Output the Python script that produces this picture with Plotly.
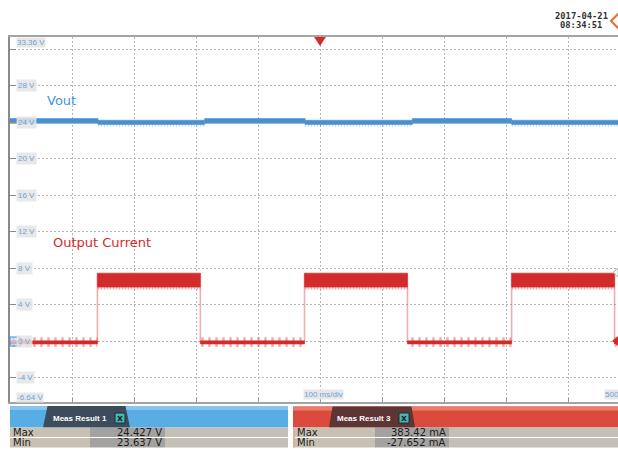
import plotly.graph_objects as go

# ---------------- data ----------------
time_range = [-500, 480.6]          # ms, 100 ms/div
volt_range = [-6.64, 33.36]         # screen volts, 4 V/div

# Output current channel: segment edges (ms) and state per segment (1 = load on)
cur_edges = [-500, -359, -193, -25, 141, 309, 475, 481]
cur_state = [0, 1, 0, 1, 0, 1, 0]
cur_low_band = [-0.28, 0.06]
cur_low_spikes = [-0.6, 0.45]
cur_high_band = [5.95, 7.48]
cur_high_fuzz = [5.7, 5.95]

# Vout channel: segment edges (ms) and state per segment (1 = unloaded / high)
vout_edges = [-500, -358, -186, -24, 149, 309, 481]
vout_state = [1, 0, 1, 0, 1, 0]
vout_high_band = [23.9, 24.43]
vout_low_band = [23.78, 24.24]
vout_low_spikes = [23.55, 23.78]

ytick_vals = [28, 24, 20, 16, 12, 8, 4, 0, -4]
ytick_text = ["28 V", "24 V", "20 V", "16 V", "12 V", "8 V", "4 V", "0 V", "-4 V"]
y_top_label = "33.36 V"
y_bottom_label = "-6.64 V"
x_scale_label = "100 ms/div"
x_right_label = "500"

meas_row_labels = ["Max", "Min"]
meas1_title = "Meas Result 1"
meas1_values = ["24.427 V", "23.637 V"]
meas3_title = "Meas Result 3"
meas3_values = ["383.42 mA", "-27.652 mA"]
timestamp_date = "2017-04-21"
timestamp_time = "08:34:51"

# ---------------- layout geometry ----------------
W, H = 618, 449
L, T, B = 10, 37, 402
PW = W - L
PH = B - T

def px(x):
    return (x - L) / PW

def py(y):
    return (B - y) / PH

BLUE = "#4a90cf"
RED = "#d22b2b"

def bands(edges, states, want, band):
    xs, ys = [], []
    for i, s in enumerate(states):
        if s != want:
            continue
        x0, x1 = edges[i], edges[i + 1]
        xs += [x0, x1, x1, x0, x0, None]
        ys += [band[0], band[0], band[1], band[1], band[0], None]
    return xs, ys

fig = go.Figure()

def band_trace(xs, ys, color):
    fig.add_trace(go.Scatter(x=xs, y=ys, mode="lines", fill="toself",
                             fillcolor=color, line=dict(width=0.6, color=color),
                             hoverinfo="skip", showlegend=False))

def pattern_trace(xs, ys, color, size, solidity):
    fig.add_trace(go.Scatter(x=xs, y=ys, mode="lines", fill="toself",
                             fillcolor="rgba(0,0,0,0)", line=dict(width=0),
                             fillpattern=dict(shape="|", size=size, solidity=solidity,
                                              fgcolor=color, bgcolor="rgba(0,0,0,0)"),
                             hoverinfo="skip", showlegend=False))

# Vout
xs, ys = bands(vout_edges, vout_state, 0, vout_low_spikes)
pattern_trace(xs, ys, "rgba(74,144,207,0.75)", 3, 0.45)
xs, ys = bands(vout_edges, vout_state, 1, vout_high_band)
band_trace(xs, ys, BLUE)
xs, ys = bands(vout_edges, vout_state, 0, vout_low_band)
band_trace(xs, ys, BLUE)

# Output current edges
lo_c = sum(cur_low_band) / 2
ex, ey = [], []
for e in cur_edges[1:-1]:
    ex += [e, e, None]
    ey += [lo_c, cur_high_band[1], None]
fig.add_trace(go.Scatter(x=ex, y=ey, mode="lines",
                         line=dict(width=1.6, color="rgba(225,110,110,0.55)"),
                         hoverinfo="skip", showlegend=False))

# Output current bands
xs, ys = bands(cur_edges, cur_state, 0, cur_low_spikes)
pattern_trace(xs, ys, "rgba(210,43,43,0.8)", 7, 0.35)
xs, ys = bands(cur_edges, cur_state, 0, cur_low_band)
band_trace(xs, ys, RED)
xs, ys = bands(cur_edges, cur_state, 1, cur_high_fuzz)
pattern_trace(xs, ys, "rgba(210,43,43,0.85)", 3, 0.55)
xs, ys = bands(cur_edges, cur_state, 1, cur_high_band)
band_trace(xs, ys, RED)

shapes = []
annotations = []

def rect_px(x0, y0, x1, y1, fill, line=None):
    shapes.append(dict(type="rect", xref="paper", yref="paper",
                       x0=px(x0), x1=px(x1), y0=py(y0), y1=py(y1),
                       fillcolor=fill, line=dict(width=0 if line is None else 1,
                                                 color=line or fill),
                       layer="above"))

def poly_px(points, fill, line_color=None, lw=0):
    d = "M " + " L ".join(f"{px(x):.5f},{py(y):.5f}" for x, y in points) + " Z"
    shapes.append(dict(type="path", xref="paper", yref="paper", path=d,
                       fillcolor=fill, line=dict(width=lw, color=line_color or fill),
                       layer="above"))

def text_px(x, y, text, size=10, color="#222", anchor="left", family="DejaVu Sans",
            bg=None, bold=False):
    if bold:
        text = f"<b>{text}</b>"
    a = dict(xref="paper", yref="paper", x=px(x), y=py(y), text=text,
             showarrow=False, xanchor=anchor, yanchor="middle",
             font=dict(size=size, color=color, family=family))
    if bg:
        a.update(bgcolor=bg, borderpad=0)
    annotations.append(a)

# y tick label boxes (inside plot)
LBL = dict(size=8, color="#6da3d8", family="Liberation Sans")
for v, t in zip(ytick_vals, ytick_text):
    annotations.append(dict(xref="paper", yref="y", x=px(16), y=v, text=t,
                            showarrow=False, xanchor="left", yanchor="middle",
                            font=LBL, bgcolor="rgba(228,228,228,0.85)", borderpad=1))
text_px(16, 42.5, y_top_label, size=8, color="#6da3d8", family="Liberation Sans",
        bg="rgba(228,228,228,0.9)")
text_px(16, 397, y_bottom_label, size=8, color="#6da3d8", family="Liberation Sans",
        bg="rgba(228,228,228,0.9)")
text_px(303, 394, x_scale_label, size=8, color="#6da3d8", family="Liberation Sans",
        bg="rgba(228,228,228,0.9)")
text_px(604, 394, x_right_label, size=8, color="#6da3d8", family="Liberation Sans",
        bg="rgba(228,228,228,0.9)")

# channel labels
text_px(45, 101, "Vout", size=13, color="#3f94d8")
text_px(51, 242, "Output Current", size=13, color="#d42a2a")

# timestamp
text_px(581, 15.5, timestamp_date, size=8.8, color="#333", anchor="center",
        family="DejaVu Sans Mono", bold=True)
text_px(581, 24.5, timestamp_time, size=8.8, color="#333", anchor="center",
        family="DejaVu Sans Mono", bold=True)
# orange diamond icon (cut by the window edge)
poly_px([(611, 21), (619, 13), (627, 21), (619, 29)], "rgba(0,0,0,0)", "#ec6a32", 2)

# trigger position marker
shapes.append(dict(type="path", xref="x", yref="paper",
                   path=f"M -9.5,1 L 9.5,1 L 0,{1 - 9/PH:.5f} Z",
                   fillcolor="#d42a2a", line=dict(width=0), layer="above"))

# channel reference markers
rect_px(10, 337, 20, 346, "rgba(205,225,245,0.7)", BLUE)
poly_px([(20, 337.5), (27, 341.5), (20, 345.5)], "rgba(210,43,43,0.8)")
poly_px([(618, 336), (612, 341), (618, 346)], "#d42a2a")
poly_px([(618, 268), (613, 272.5), (618, 277)], "rgba(0,0,0,0)", "#b0b0b0", 1)

# ---------------- measurement panels ----------------
# blue panel
rect_px(10, 406, 288, 427.5, "#58ade4")
rect_px(10, 406, 288, 410, "#86c6ee")
poly_px([(43, 427.5), (47.5, 406), (125.5, 406), (130, 427.5)], "#3d4c5c")
text_px(80, 418, meas1_title, size=8, color="white", anchor="center",
        family="Liberation Sans", bold=True)
rect_px(115, 413, 125, 423, "#46b6ae", "#1f2e36")
text_px(120, 418, "x", size=9, color="#1b2830", anchor="center", bold=True)
# red panel
rect_px(293, 406.5, 618, 427.5, "#dc4a3d")
rect_px(293, 406.5, 618, 410.5, "#ea7a6c")
poly_px([(329, 427.5), (332.5, 406.5), (411.5, 406.5), (415, 427.5)], "#5e3535")
text_px(364, 418, meas3_title, size=8, color="white", anchor="center",
        family="Liberation Sans", bold=True)
rect_px(399, 413, 409, 423, "#46b6ae", "#1f2e36")
text_px(404, 418, "x", size=9, color="#1b2830", anchor="center", bold=True)

row_y = [(427.5, 437), (438, 447.5)]
for (y0, y1), lab, v1, v3 in zip(row_y, meas_row_labels, meas1_values, meas3_values):
    ym = (y0 + y1) / 2
    rect_px(10, y0, 90, y1, "#c8c1b3")
    rect_px(90, y0, 165, y1, "#a4a2a0")
    rect_px(165, y0, 288, y1, "#c4bfb7")
    rect_px(293, y0, 375, y1, "#c8c1b3")
    rect_px(375, y0, 449, y1, "#a4a2a0")
    rect_px(449, y0, 618, y1, "#c4bfb7")
    text_px(11, ym, lab, size=10, color="#1c1c1c")
    text_px(164, ym, v1, size=10, color="#1c1c1c", anchor="right")
    text_px(295, ym, lab, size=10, color="#1c1c1c")
    text_px(448, ym, v3, size=10, color="#1c1c1c", anchor="right")
rect_px(293, 427.5, 295, 447.5, "#e8a8a0")

fig.update_layout(
    width=W, height=H, autosize=False,
    margin=dict(l=L, r=0, t=T, b=H - B, pad=0),
    paper_bgcolor="white", plot_bgcolor="white",
    showlegend=False,
    shapes=shapes, annotations=annotations,
    xaxis=dict(range=time_range, dtick=100, tick0=0, showgrid=True,
               gridcolor="#b5b5b5", gridwidth=1, griddash="2px,2px",
               zeroline=False, showticklabels=False, ticks="inside", ticklen=4,
               tickcolor="#999", showline=True, linecolor="#a3a3a3", linewidth=2,
               mirror=True, fixedrange=True),
    yaxis=dict(range=volt_range, dtick=4, tick0=0, showgrid=True,
               gridcolor="#b5b5b5", gridwidth=1, griddash="2px,2px",
               zeroline=False, showticklabels=False, ticks="inside", ticklen=6,
               tickcolor="#8a8a8a", showline=True, linecolor="#8a8a8a", linewidth=2,
               mirror=False, fixedrange=True),
)

fig.write_html("out.html",
               config={"displayModeBar": False, "staticPlot": True},
               post_script="document.body.style.margin='0px';"
                           "document.body.style.overflow='hidden';")
